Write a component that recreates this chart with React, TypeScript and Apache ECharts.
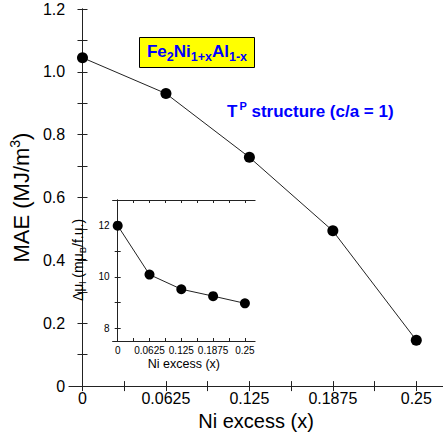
import React, { useEffect, useRef } from "react";
import * as echarts from "echarts";

const xValues = [0, 0.0625, 0.125, 0.1875, 0.25];
const maeValues = [1.045, 0.931, 0.728, 0.494, 0.146];
const dmuValues = [12.0, 10.09, 9.52, 9.25, 8.97];

const mainXLabels = [0, 0.0625, 0.125, 0.1875, 0.25];
const mainXTicks = [0, 0.03125, 0.0625, 0.09375, 0.125, 0.15625, 0.1875, 0.21875, 0.25];
const mainYLabels = [0, 0.2, 0.4, 0.6, 0.8, 1.0, 1.2];
const mainYTicks = [0, 0.1, 0.2, 0.3, 0.4, 0.5, 0.6, 0.7, 0.8, 0.9, 1.0, 1.1, 1.2];
const insetYLabels = [8, 10, 12];
const insetYTicks = [8, 9, 10, 11, 12, 13];

const FONT = "'Liberation Sans', Arial, Helvetica, sans-serif";
const AX = "#222";
const BLUE = "#0000ff";

export default function App() {
  const ref = useRef<HTMLDivElement>(null);
  useEffect(() => {
    if (!ref.current) return;
    const chart = echarts.init(ref.current, null, { renderer: "svg" });
    const fmtX = (v: number) => (v === 0 ? "0" : String(v));
    const fmtY = (v: number) => (v === 0 ? "0" : v.toFixed(1));
    const axLine = { show: true, lineStyle: { color: AX, width: 1 } };
    const option: any = {
      animation: false,
      textStyle: { fontFamily: FONT },
      grid: [
        { left: 65, top: 9, width: 381, height: 380 },
        {
          left: 112.6, top: 200, width: 142.5, height: 141,
          show: true, backgroundColor: "#fff", borderColor: "transparent",
        },
      ],
      xAxis: [
        {
          gridIndex: 0, type: "value", position: "bottom", min: -0.01, max: 0.27,
          axisLine: axLine,
          axisTick: { show: true, inside: true, length: 5, customValues: mainXTicks, lineStyle: { color: AX } },
          axisLabel: { customValues: mainXLabels, formatter: fmtX, fontSize: 16, color: "#000", margin: 4, fontFamily: FONT },
          splitLine: { show: false },
          name: "Ni excess (x)", nameLocation: "middle", nameGap: 11,
          nameTextStyle: { fontSize: 20, color: "#000", fontFamily: FONT },
        },
        {
          gridIndex: 0, type: "value", position: "top", min: -0.01, max: 0.27,
          axisLine: axLine,
          axisTick: { show: true, inside: true, length: 5, customValues: mainXTicks, lineStyle: { color: AX } },
          axisLabel: { show: false },
          splitLine: { show: false },
        },
        {
          gridIndex: 1, type: "value", position: "bottom", min: -0.01, max: 0.27,
          axisLine: axLine,
          axisTick: { show: true, inside: true, length: 3, customValues: mainXTicks, lineStyle: { color: AX } },
          axisLabel: { customValues: mainXLabels, formatter: fmtX, fontSize: 10, color: "#000", margin: 4, fontFamily: FONT },
          splitLine: { show: false },
          name: "Ni excess (x)", nameLocation: "middle", nameGap: 16,
          nameTextStyle: { fontSize: 12.5, color: "#000", fontFamily: FONT },
        },
        {
          gridIndex: 1, type: "value", position: "top", min: -0.01, max: 0.27,
          axisLine: axLine,
          axisTick: { show: true, inside: true, length: 3, customValues: mainXTicks, lineStyle: { color: AX } },
          axisLabel: { show: false },
          splitLine: { show: false },
        },
      ],
      yAxis: [
        {
          gridIndex: 0, type: "value", position: "left", min: 0, max: 1.2,
          axisLine: axLine,
          axisTick: { show: true, inside: true, length: 5, customValues: mainYTicks, lineStyle: { color: AX } },
          axisLabel: { customValues: mainYLabels, formatter: fmtY, fontSize: 16, color: "#000", margin: 4, fontFamily: FONT },
          splitLine: { show: false },
          name: "{a|MAE (MJ/m}{s|3}{a|)}", nameLocation: "middle", nameGap: 30,
          nameTextStyle: {
            fontFamily: FONT, color: "#000",
            rich: {
              a: { fontSize: 22, fontFamily: FONT, color: "#000", verticalAlign: "bottom" },
              s: { fontSize: 14, fontFamily: FONT, color: "#000", verticalAlign: "top", padding: [0, 0, 10, 0] },
            },
          },
        },
        {
          gridIndex: 0, type: "value", position: "right", min: 0, max: 1.2,
          axisLine: axLine,
          axisTick: { show: true, inside: true, length: 5, customValues: mainYTicks, lineStyle: { color: AX } },
          axisLabel: { show: false },
          splitLine: { show: false },
        },
        {
          gridIndex: 1, type: "value", position: "left", min: 7.5, max: 13,
          axisLine: axLine,
          axisTick: { show: true, inside: true, length: 3, customValues: insetYTicks, lineStyle: { color: AX } },
          axisLabel: { customValues: insetYLabels, fontSize: 10, color: "#000", margin: 3, fontFamily: FONT },
          splitLine: { show: false },
        },
        {
          gridIndex: 1, type: "value", position: "right", min: 7.5, max: 13,
          axisLine: axLine,
          axisTick: { show: true, inside: true, length: 3, customValues: insetYTicks, lineStyle: { color: AX } },
          axisLabel: { show: false },
          splitLine: { show: false },
        },
      ],
      series: [
        {
          type: "line", xAxisIndex: 0, yAxisIndex: 0,
          data: xValues.map((x, i) => [x, maeValues[i]]),
          symbol: "circle", symbolSize: 11,
          itemStyle: { color: "#000" },
          lineStyle: { color: "#222", width: 1 },
          z: 3,
        },
        {
          type: "line", xAxisIndex: 2, yAxisIndex: 2,
          data: xValues.map((x, i) => [x, dmuValues[i]]),
          symbol: "circle", symbolSize: 10,
          itemStyle: { color: "#000" },
          lineStyle: { color: "#222", width: 1 },
          z: 3,
        },
      ],
      graphic: [
        {
          type: "rect", shape: { x: 139.5, y: 37.5, width: 115, height: 30 },
          style: { fill: "#ffff00", stroke: "#000", lineWidth: 1 }, z: 10,
        },
        {
          type: "text", x: 197, y: 53, z: 11,
          style: {
            text: "{m|Fe}{s|2}{m|Ni}{s|1+x}{m|Al}{s|1-x}",
            align: "center", verticalAlign: "middle",
            rich: {
              m: { fontSize: 17, fontWeight: "bold", fill: BLUE, fontFamily: FONT, verticalAlign: "top" },
              s: { fontSize: 12.5, fontWeight: "bold", fill: BLUE, fontFamily: FONT, verticalAlign: "bottom", padding: [7, 0, 0, 0] },
            },
          },
        },
        {
          type: "text", x: 227, y: 110, z: 11,
          style: {
            text: "{m|T}{s|P}{m| structure (c/a = 1)}",
            align: "left", verticalAlign: "middle",
            rich: {
              m: { fontSize: 17, fontWeight: "bold", fill: BLUE, fontFamily: FONT, verticalAlign: "bottom" },
              s: { fontSize: 11, fontWeight: "bold", fill: BLUE, fontFamily: FONT, verticalAlign: "top", padding: [0, 0, 9, 2] },
            },
          },
        },
        {
          type: "text", x: 79, y: 260, z: 11, rotation: Math.PI / 2,
          style: {
            text: "{a|Δμ}{b|l}{a| (mμ}{b|B}{a|/f.u.)}",
            align: "center", verticalAlign: "middle",
            rich: {
              a: { fontSize: 14, fill: "#000", fontFamily: FONT, verticalAlign: "top" },
              b: { fontSize: 9.5, fill: "#000", fontFamily: FONT, verticalAlign: "bottom", padding: [7, 0, 0, 0] },
            },
          },
        },
      ],
    };
    chart.setOption(option);
    return () => chart.dispose();
  }, []);
  return (
    <div
      ref={ref}
      style={{ position: "fixed", left: 0, top: 0, width: 443, height: 436, background: "#fff" }}
    />
  );
}
